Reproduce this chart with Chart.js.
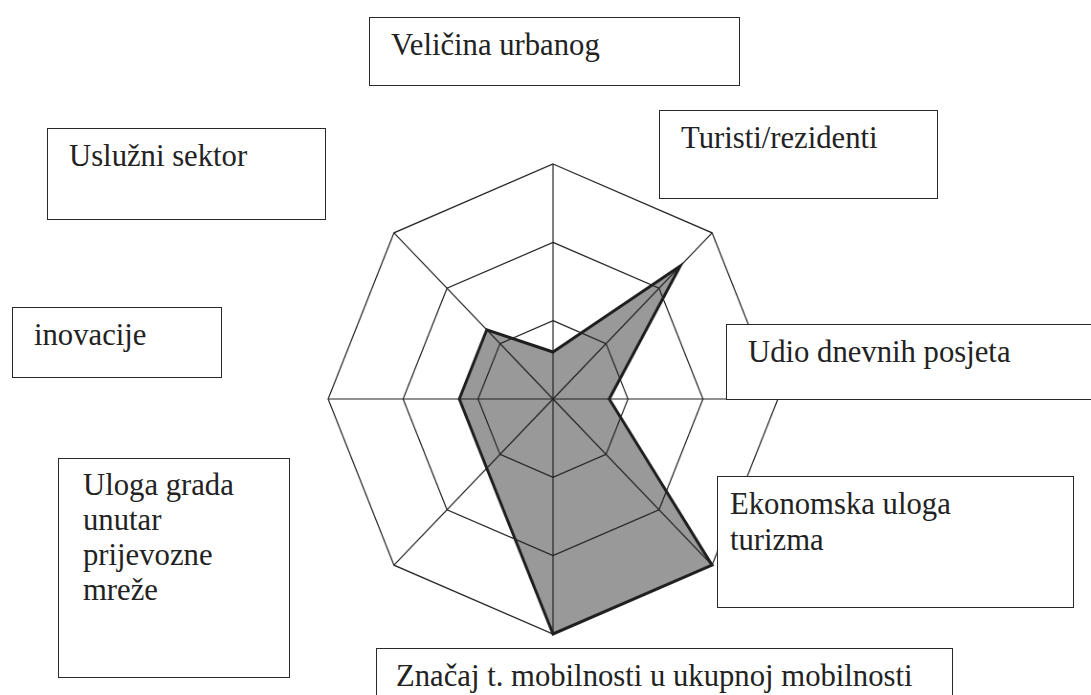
<!DOCTYPE html>
<html>
<head>
<meta charset="utf-8">
<script src="https://cdn.jsdelivr.net/npm/chart.js@4/dist/chart.umd.min.js"></script>
<style>
  body { margin: 0; width: 1091px; height: 695px; background: #fff; overflow: hidden; position: relative; }
  #wrap { position: absolute; left: 308px; top: 154px; width: 490px; height: 490px;
          transform: scaleX(0.957); transform-origin: 245px 245px; }
  .box { position: absolute; box-sizing: border-box; border: 1.5px solid #2a2a2a; background: #fff;
         font-family: "Liberation Serif", "Times New Roman", serif; font-size: 30.7px; line-height: 35px;
         color: #222; padding: 10px 0 0 21px; }
</style>
</head>
<body>
<div id="wrap"><canvas id="radar" width="490" height="490"></canvas></div>

<div class="box" style="left:369px; top:17px; width:371px; height:69px;">Veličina urbanog</div>
<div class="box" style="left:659px; top:110px; width:279px; height:89px;">Turisti/rezidenti</div>
<div class="box" style="left:47px; top:128px; width:279px; height:92px;">Uslužni sektor</div>
<div class="box" style="left:12px; top:307px; width:210px; height:71px;">inovacije</div>
<div class="box" style="left:726px; top:324px; width:380px; height:76px;">Udio dnevnih posjeta</div>
<div class="box" style="left:58px; top:458px; width:232px; height:220px; padding-left:24px; padding-top:9px;">Uloga grada<br>unutar<br>prijevozne<br>mreže</div>
<div class="box" style="left:717px; top:476px; width:357px; height:132px; padding-left:12px; padding-top:9px; line-height:36px;">Ekonomska uloga<br>turizma</div>
<div class="box" style="left:376px; top:648px; width:577px; height:60px; padding-left:19px;">Značaj t. mobilnosti u ukupnoj mobilnosti</div>

<script>
var labels = ['Veličina urbanog', 'Turisti/rezidenti', 'Udio dnevnih posjeta', 'Ekonomska uloga turizma',
              'Značaj t. mobilnosti u ukupnoj mobilnosti', 'Uloga grada unutar prijevozne mreže', 'inovacije', 'Uslužni sektor'];
var values = [0.6, 2.4, 0.75, 3, 3, 1.25, 1.25, 1.25];
var scaleMax = 3;

var ctx = document.getElementById('radar');
var chart = new Chart(ctx, {
    type: 'radar',
    data: {
        labels: labels,
        datasets: [{
            data: values,
            backgroundColor: '#999999',
            borderColor: '#1e1e1e',
            borderWidth: 3,
            pointRadius: 0,
            fill: true
        }]
    },
    options: {
        responsive: false,
        animation: false,
        layout: { padding: 10 },
        plugins: { legend: { display: false }, tooltip: { enabled: false } },
        scales: {
            r: {
                min: 0,
                max: scaleMax,
                ticks: { display: false, stepSize: 1 },
                pointLabels: { display: false },
                grid: { color: '#222', lineWidth: 1.2, z: 1 },
                angleLines: { color: '#222', lineWidth: 1.2 }
            }
        }
    }
});
</script>
</body>
</html>
